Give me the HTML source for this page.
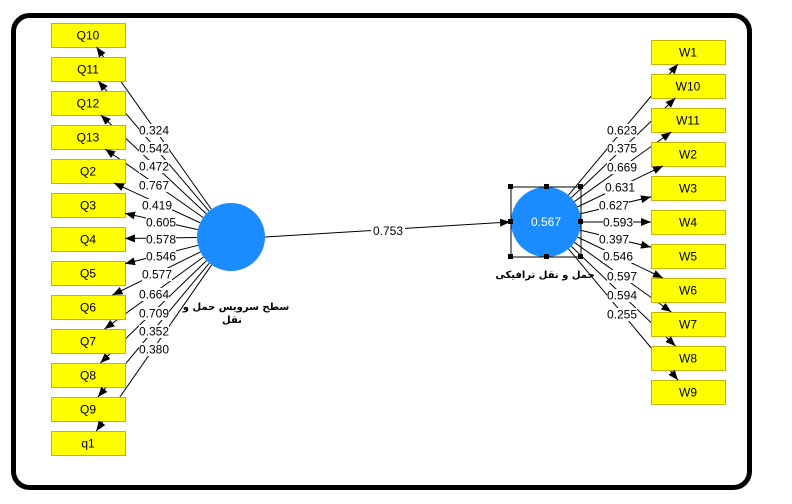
<!DOCTYPE html>
<html><head><meta charset="utf-8"><style>
html,body{margin:0;padding:0;background:#fff;width:792px;height:504px;overflow:hidden}
svg{display:block}
text{font-family:"Liberation Sans",sans-serif;font-size:12px;fill:#000}
</style></head><body>
<svg id="s" width="792" height="504" xmlns="http://www.w3.org/2000/svg">
<defs><marker id="a" markerWidth="10" markerHeight="8" refX="10" refY="4" orient="auto" markerUnits="userSpaceOnUse"><path d="M0,0 L10,4 L0,8 Z" fill="#000"/></marker></defs>
<rect x="13.5" y="15.5" width="736" height="472" rx="16" fill="#fff" stroke="#000" stroke-width="5"/>
<g id="lines"></g><g id="boxes"></g><g id="arrows"></g><g id="labels"></g>
<circle cx="231" cy="237" r="34" fill="#1a8cff"/>
<circle cx="546" cy="222" r="35" fill="#1a8cff"/>
<text x="546" y="226" text-anchor="middle" fill="#fff" style="fill:#fff">0.567</text>
<rect x="511" y="187" width="70" height="70" fill="none" stroke="#000" stroke-width="1"/>
<g fill="#000"><rect x="508" y="184" width="5" height="5"/><rect x="544" y="184" width="5" height="5"/><rect x="578" y="184" width="5" height="5"/><rect x="508" y="219" width="5" height="5"/><rect x="578" y="219" width="5" height="5"/><rect x="508" y="254" width="5" height="5"/><rect x="544" y="254" width="5" height="5"/><rect x="578" y="254" width="5" height="5"/></g>
<line x1="265" y1="237" x2="510" y2="222" stroke="#000" stroke-width="1" marker-end="url(#a)"/>
<rect x="371" y="224" width="34" height="13" fill="#fff"/>
<text x="388" y="235" text-anchor="middle">0.753</text>
<text x="236" y="310" text-anchor="middle" style="font-family:'DejaVu Sans',sans-serif;font-size:10px;font-weight:bold">سطح سرویس حمل و</text>
<text x="232" y="323" text-anchor="middle" style="font-family:'DejaVu Sans',sans-serif;font-size:10px;font-weight:bold">نقل</text>
<text x="545" y="278" text-anchor="middle" style="font-family:'DejaVu Sans',sans-serif;font-size:10px;font-weight:bold">حمل و نقل ترافیکی</text>
</svg>
<script>
var NS="http://www.w3.org/2000/svg";
function el(p,t,a,txt){var e=document.createElementNS(NS,t);for(var k in a)e.setAttribute(k,a[k]);if(txt)e.textContent=txt;document.getElementById(p).appendChild(e);return e;}
function clip(cx,cy,bx,by,w,h){var tx=bx+w/2,ty=by+h/2,dx=cx-tx,dy=cy-ty;var s=Math.min(dx?Math.abs((w/2)/dx):1e9,dy?Math.abs((h/2)/dy):1e9);return [tx+dx*s,ty+dy*s];}
var Q=["Q10","Q11","Q12","Q13","Q2","Q3","Q4","Q5","Q6","Q7","Q8","Q9","q1"];
var QL=[["0.324",154,130],["0.542",154,148],["0.472",154,166],["0.767",154,185],["0.419",157,205],["0.605",161,222],["0.578",161,239],["0.546",161,256],["0.577",157,274],["0.664",154,294],["0.709",154,313],["0.352",154,331],["0.380",154,349]];
var W=["W1","W10","W11","W2","W3","W4","W5","W6","W7","W8","W9"];
var WL=[["0.623",622,130],["0.375",622,148],["0.669",622,167],["0.631",620,187],["0.627",614,205],["0.593",618,222],["0.397",614,239],["0.546",618,256],["0.597",622,276],["0.594",622,295],["0.255",622,314]];
function side(names,labs,x0,y0,cx,cy,r){
names.forEach(function(n,i){var by=y0+34*i,w=74,h=24;
var tx=x0+w/2,ty=by+h/2,d=Math.hypot(tx-cx,ty-cy);
var sx=cx+(tx-cx)/d*r,sy=cy+(ty-cy)/d*r;
var p=clip(cx,cy,x0,by,w,h);
el("lines","line",{x1:sx,y1:sy,x2:p[0],y2:p[1],stroke:"#000","stroke-width":1});
var ux=(p[0]-sx)/d,uy=(p[1]-sy)/d,dd=Math.hypot(p[0]-sx,p[1]-sy);
el("arrows","line",{x1:p[0]-(p[0]-sx)/dd*11,y1:p[1]-(p[1]-sy)/dd*11,x2:p[0],y2:p[1],stroke:"#000","stroke-width":1,"marker-end":"url(#a)"});
el("boxes","rect",{x:x0+0.5,y:by+0.5,width:w,height:h,fill:"#ffff00",stroke:"#c8b400","stroke-width":1});
el("boxes","text",{x:x0+w/2,y:by+16.5,"text-anchor":"middle"},n);
var L=labs[i];
el("labels","rect",{x:L[1]-15,y:L[2]-6,width:30,height:13,fill:"#fff"});
el("labels","text",{x:L[1],y:L[2]+4.5,"text-anchor":"middle"},L[0]);
});}
side(Q,QL,51,23,231,237,34);
side(W,WL,651,40,546,222,35);
</script>
</body></html>
